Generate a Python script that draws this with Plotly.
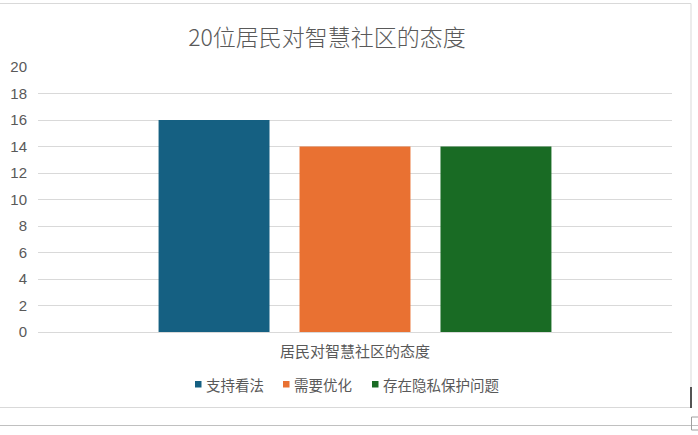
import plotly.graph_objects as go

title = "20位居民对智慧社区的态度"
categories = ["居民对智慧社区的态度"]
series_names = ["支持看法", "需要优化", "存在隐私保护问题"]
series_values = [[16], [14], [14]]
colors = ["#156082", "#E97132", "#196B24"]
y_ticks = [0, 2, 4, 6, 8, 10, 12, 14, 16, 18, 20]

W, H = 698, 435
L, R, T, B = 38, 672, 67, 332  # plot area in pixels (body margin removed below)


def px(x):
    return (x - L) / (R - L)


def py(y):
    return (B - y) / (B - T)


cjk = "Noto Sans CJK SC"
num_font = "Liberation Sans Narrow, Liberation Sans, " + cjk
grey = "#595959"

fig = go.Figure(
    data=[
        go.Bar(name=name, x=categories, y=vals, marker_color=color, marker_line_width=0, showlegend=False)
        for name, vals, color in zip(series_names, series_values, colors)
    ]
)

# frame lines of the chart box
line = dict(color="#D9D9D9", width=1)
shapes = [
    dict(type="line", xref="paper", yref="paper", x0=px(0), x1=px(691), y0=py(3.5), y1=py(3.5), line=line),
    dict(type="line", xref="paper", yref="paper", x0=px(691), x1=px(691), y0=py(3.5), y1=py(407.5), line=line),
    dict(type="line", xref="paper", yref="paper", x0=px(0), x1=px(691), y0=py(407.5), y1=py(407.5), line=line),
    dict(type="line", xref="paper", yref="paper", x0=px(0), x1=px(698), y0=py(425.5), y1=py(425.5),
         line=dict(color="#C0C0C0", width=1)),
    dict(type="line", xref="paper", yref="paper", x0=px(691), x1=px(691), y0=py(387), y1=py(408),
         line=dict(color="#222222", width=1.5)),
    dict(type="rect", xref="paper", yref="paper", x0=px(691.5), x1=px(700), y0=py(417), y1=py(430),
         line=dict(color="#A0A0A0", width=1)),
]

# legend drawn by hand: small squares next to the names
legend_x = [195, 283, 372]
annotations = []
for name, color, x in zip(series_names, colors, legend_x):
    shapes.append(dict(type="rect", xref="paper", yref="paper", x0=px(x), x1=px(x + 6.5),
                       y0=py(381), y1=py(387.5), fillcolor=color, line_width=0))
    annotations.append(dict(text=name, xref="paper", yref="paper", x=px(x + 9), y=py(384.5),
                            xanchor="left", yanchor="middle", showarrow=False,
                            font=dict(family=cjk, size=14.5, color=grey)))

fig.update_layout(
    width=W,
    height=H,
    margin=dict(l=L, r=W - R, t=T, b=H - B),
    paper_bgcolor="white",
    plot_bgcolor="white",
    barmode="group",
    bargap=0.333,
    bargroupgap=0.213,
    title=dict(
        text=title,
        x=327 / W,
        xanchor="center",
        y=1 - 38 / H,
        yanchor="middle",
        font=dict(family=cjk, size=23, color=grey, weight=300),
    ),
    font=dict(family=cjk, color=grey),
    yaxis=dict(
        range=[0, 20],
        tickvals=y_ticks,
        showgrid=True,
        gridcolor="#D9D9D9",
        gridwidth=1,
        zeroline=False,
        showline=False,
        tickfont=dict(family=num_font, size=15, color=grey),
        ticklabelstandoff=10,
        automargin=False,
        fixedrange=True,
    ),
    xaxis=dict(
        showline=True,
        linecolor="#D9D9D9",
        linewidth=1,
        tickfont=dict(family=cjk, size=15, color=grey),
        ticklabelstandoff=6,
        automargin=False,
    ),
    shapes=shapes,
    annotations=annotations,
)

fig.write_html(
    "out.html",
    config={"displayModeBar": False},
    post_script="document.body.style.margin='0';document.body.style.overflow='hidden';",
)
